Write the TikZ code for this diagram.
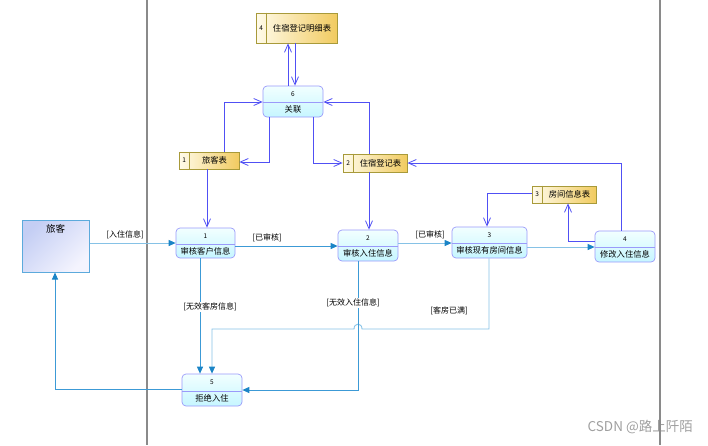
\documentclass[tikz,border=0pt]{standalone}
\usepackage{fontspec}
\setmainfont{Noto Sans CJK SC}
\usetikzlibrary{arrows.meta,calc}
\definecolor{procb}{HTML}{9A9AFA}
\definecolor{procA}{HTML}{F2FFFF}
\definecolor{procB}{HTML}{C6F6FF}
\definecolor{storeb}{HTML}{A89A3A}
\definecolor{storeA}{HTML}{FFFBEA}
\definecolor{storeB}{HTML}{F1CB60}
\definecolor{extb}{HTML}{5CAADC}
\definecolor{extA}{HTML}{C4CEF4}
\definecolor{extB}{HTML}{F4F4FE}
\definecolor{dfc}{HTML}{5050F4}
\definecolor{cfc}{HTML}{3C9AD6}
\definecolor{cfl}{HTML}{86C2E6}
\definecolor{cft}{HTML}{1A84C6}
\definecolor{lanec}{HTML}{8A8A8A}
\tikzset{
  procs/.style={draw=procb, line width=0.7pt, rounded corners=4pt, top color=procA, bottom color=procB, inner sep=0pt},
  procline/.style={draw=procb, line width=0.7pt},
  stores/.style={draw=storeb, line width=0.7pt, left color=storeA, right color=storeB, inner sep=0pt},
  storeline/.style={draw=storeb, line width=0.6pt},
  exts/.style={draw=extb, line width=1pt, top color=extB, bottom color=extA, shading angle=-135, inner sep=0pt},
  numf/.style={font=\fontsize{6.5}{7}\selectfont, inner sep=0pt},
  lblf/.style={font=\fontsize{8.3}{9}\selectfont, inner sep=0pt},
  flbl/.style={font=\fontsize{8}{9}\selectfont, fill=white, inner sep=0.6pt},
  df/.style={draw=dfc, line width=0.8pt, -{Straight Barb[length=8pt,width=7pt]}},
  cf/.style={draw=cfc, line width=0.9pt, -{Triangle[length=7pt,width=6pt,color=cft]}},
  cfL/.style={cf, draw=cfl},
}
\newcommand\procbox[7]{%
  \node[procs, minimum width=#4pt, minimum height=#5pt] (#1) at (#2,#3) {};
  \draw[procline] ($(#1.west)+(0,1)$) -- ($(#1.east)+(0,1)$);
  \node[numf] (#1-n) at ($(#1.north)!0.27!(#1.south)$) {#6};
  \node[lblf] (#1-t) at ($(#1.north)!0.76!(#1.south)$) {#7};
}
\newcommand\storebox[7]{%
  \node[stores, minimum width=#4pt, minimum height=#5pt] (#1) at (#2,#3) {};
  \draw[storeline] ($(#1.north west)+(11,0)$) -- ($(#1.south west)+(11,0)$);
  \node[numf] (#1-n) at ($(#1.west)+(5.5,0)$) {#6};
  \node[lblf] (#1-t) at ($(#1.center)+(5.5,0)$) {#7};
}
\begin{document}
\begin{tikzpicture}[x=1pt,y=-1pt]
\useasboundingbox (0,0) rectangle (708,445);
% watermark
\node[font=\fontsize{13.5}{14}\selectfont, text=gray!75, anchor=east, inner sep=0pt] (wm) at (693,427) {CSDN @路上阡陌};
% swimlane separators
\draw[lanec, line width=1.2pt] (147,0) -- (147,445);
\draw[lanec, line width=1.2pt] (660,0) -- (660,445);

% external entity
\node[exts, minimum width=67pt, minimum height=52pt] (e) at (55.5,246) {};
\node[lblf, font=\fontsize{9.5}{10}\selectfont] (e-t) at ($(e.north)+(0,9)$) {旅客};

% data stores
\storebox{s4}{296.5}{28}{81}{30}{4}{住宿登记明细表}
\storebox{s1}{209}{160.5}{60}{17}{1}{旅客表}
\storebox{s2}{375}{163}{64}{18}{2}{住宿登记表}
\storebox{s3}{564}{194.5}{64}{17}{3}{房间信息表}

% processes
\procbox{p6}{293}{101.5}{60}{31}{6}{关联}
\procbox{p1}{205.5}{243}{59}{30}{1}{审核客户信息}
\procbox{p2}{368}{245.5}{60}{31}{2}{审核入住信息}
\procbox{p3}{489.5}{242.5}{75}{31}{3}{审核现有房间信息}
\procbox{p4}{625}{246.5}{60}{31}{4}{修改入住信息}
\procbox{p5}{212}{390}{60}{32}{5}{拒绝入住}

% bend points
\coordinate (k1) at (288,0);
\coordinate (k2) at (295,0);
\coordinate (k3) at (224,102);
\coordinate (k4) at (269,162);
\coordinate (k5) at (313,163);
\coordinate (k6) at (369,102);
\coordinate (k7) at (207,0);
\coordinate (k9) at (487,193);
\coordinate (k10) at (568,241);
\coordinate (k11) at (621,163);

% data flows
\draw[df] (p6.north -| k1) -- (s4.south -| k1);
\draw[df] (s4.south -| k2) -- (p6.north -| k2);
\draw[df] (s1.north -| k3) -- (k3) -- (p6.west |- k3);
\draw[df] (p6.south -| k4) -- (k4) -- (s1.east |- k4);
\draw[df] (p6.south -| k5) -- (k5) -- (s2.west |- k5);
\draw[df] (s2.north -| k6) -- (k6) -- (p6.east |- k6);
\draw[df] (s1.south -| k7) -- (p1.north -| k7);
\draw[df] (s2.south -| k6) -- (p2.north -| k6);
\draw[df] (s3.west |- k9) -- (k9) -- (p3.north -| k9);
\draw[df] (p4.west |- k10) -- (k10) -- (s3.south -| k10);
\draw[df] (p4.north -| k11) -- (k11) -- (s2.east |- k11);

% control flows
\coordinate (c1) at (0,243);
\coordinate (c2) at (0,246);
\coordinate (c3) at (0,243);
\coordinate (c4) at (0,247);
\coordinate (c5) at (200,0);
\coordinate (c6) at (489,329);
\coordinate (c7) at (212,329);
\coordinate (c8) at (358,390);
\coordinate (c9) at (55,389);
\coordinate (h1) at (362,329);
\coordinate (h2) at (354,329);

\draw[cfL] (e.east |- c1) -- (p1.west |- c1);
\draw[cf] (p1.east |- c2) -- (p2.west |- c2);
\draw[cfL] (p2.east |- c3) -- (p3.west |- c3);
\draw[cfL] (p3.east |- c4) -- (p4.west |- c4);
\draw[cf] (p1.south -| c5) -- (p5.north -| c5);
\draw[cfL] (p3.south -| c6) -- (c6) -- (h1) .. controls (362,322.5) and (354,322.5) .. (h2) -- (c7) -- (p5.north -| c7);
\draw[cf] (p2.south -| c8) -- (c8) -- (p5.east |- c8);
\draw[cf] (p5.west |- c9) -- (c9) -- (e.south -| c9);

% flow labels
\node[flbl] (l1) at (125,235) {[入住信息]};
\node[flbl] (l2) at (267,238) {[已审核]};
\node[flbl] (l3) at (430,235) {[已审核]};
\node[flbl] (l4) at (210,307) {[无效客房信息]};
\node[flbl] (l5) at (353,303) {[无效入住信息]};
\node[flbl] (l6) at (449,311) {[客房已满]};
\end{tikzpicture}
\end{document}
